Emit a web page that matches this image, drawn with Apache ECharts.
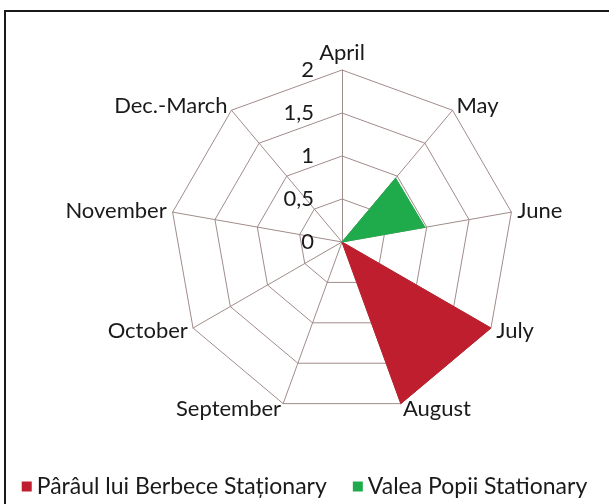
<!DOCTYPE html>
<html><head><meta charset="utf-8">
<script src="https://cdn.jsdelivr.net/npm/echarts@6/dist/echarts.min.js"></script>
<style>
html,body{margin:0;padding:0;background:#fff;}
#frame{position:absolute;left:4px;top:10px;width:640px;height:540px;border:2px solid #1a1a1a;box-sizing:border-box;}
#c{position:absolute;left:0;top:0;width:609px;height:504px;}
</style></head>
<body>
<div id="frame"></div>
<div id="c"></div>
<script>
const categories = ['April','May','June','July','August','September','October','November','Dec.-March'];
const seriesNames = ['Pârâul lui Berbece Staționary','Valea Popii Stationary'];
const parauValues = [0, 0, 0, 2, 2, 0, 0, 0, 0];
const valeaValues = [0, 0.97, 0.98, 0, 0, 0, 0, 0, 0];
const tickValues = [0, 0.5, 1, 1.5, 2];
const axisMax = 2;

// ECharts radar runs counter-clockwise; reorder so the chart reads clockwise
const order = [0].concat(categories.map((_, i) => i).slice(1).reverse());
const reorder = arr => order.map(i => arr[i]);

const FONT = 'Lato';
const lineCol = '#a08c8a';
const chart = echarts.init(document.getElementById('c'));
chart.setOption({
  animation: false,
  textStyle: {fontFamily: FONT},
  legend: {
    bottom: 1, left: 'center',
    itemWidth: 10, itemHeight: 10, itemGap: 26,
    icon: 'rect',
    textStyle: {fontSize: 23, color: '#1a1a1a', fontFamily: FONT},
    data: seriesNames
  },
  radar: {
    center: [342, 242], radius: 172,
    startAngle: 90, shape: 'polygon', splitNumber: 4,
    indicator: reorder(categories).map(n => ({name: n, min: 0, max: axisMax})),
    axisName: {color: '#1a1a1a', fontSize: 22, fontFamily: FONT},
    nameGap: 6,
    splitLine: {lineStyle: {color: lineCol, width: 1}},
    axisLine: {lineStyle: {color: lineCol, width: 1}},
    splitArea: {show: false},
    axisTick: {show: false},
    axisLabel: {show: false}
  },
  polar: {center: [342, 242], radius: 172},
  angleAxis: {show: false, startAngle: 90, min: 0, max: 360},
  radiusAxis: {
    min: 0, max: axisMax, interval: 0.5,
    axisLine: {show: false}, axisTick: {show: false}, splitLine: {show: false},
    axisLabel: {
      margin: 28, fontSize: 22, color: '#1a1a1a', fontFamily: FONT,
      customValues: tickValues,
      formatter: v => String(v).replace('.', ',')
    }
  },
  series: [{
    type: 'radar',
    symbol: 'none',
    data: [
      {name: seriesNames[0], value: reorder(parauValues),
       itemStyle: {color: '#be1e2d'}, lineStyle: {color: '#be1e2d', width: 1}, areaStyle: {color: '#be1e2d', opacity: 1}},
      {name: seriesNames[1], value: reorder(valeaValues),
       itemStyle: {color: '#1fab4b'}, lineStyle: {color: '#1fab4b', width: 1}, areaStyle: {color: '#1fab4b', opacity: 1}}
    ]
  }]
});
</script>
</body></html>
